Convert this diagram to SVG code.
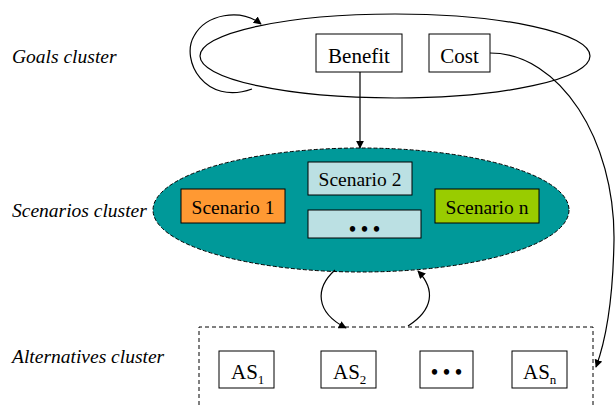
<svg xmlns="http://www.w3.org/2000/svg" width="615" height="406" viewBox="0 0 615 406" font-family="Liberation Serif, Tinos, Times New Roman, DejaVu Serif, serif">
  <style>
    text { font-family: "Liberation Serif", Tinos, "Times New Roman", "DejaVu Serif", serif; fill: #000; }
    .cluster-label { font-style: italic; font-size: 19.5px; }
    .box { stroke: #000; stroke-width: 1; }
    .plain { fill: #fff; }
    .label { font-size: 21px; text-anchor: middle; }
    .scen { font-size: 19.5px; text-anchor: middle; }
    .dots { font-size: 20px; text-anchor: middle; font-weight: bold; }
    .edge { fill: none; stroke: #000; stroke-width: 1.2; }
    .dashed { fill: none; stroke: #000; stroke-width: 1; stroke-dasharray: 4 3; }
  </style>
  <defs>
    <marker id="arrow" viewBox="0 0 10 10" refX="9" refY="5" markerWidth="8" markerHeight="8" markerUnits="userSpaceOnUse" orient="auto">
      <path d="M0,0 L10,5 L0,10 z" fill="#000"/>
    </marker>
  </defs>

  <rect width="615" height="406" fill="#fff"/>

  <!-- cluster labels -->
  <text class="cluster-label" x="12" y="63">Goals cluster</text>
  <text class="cluster-label" x="12" y="217">Scenarios cluster</text>
  <text class="cluster-label" x="12" y="363">Alternatives cluster</text>

  <!-- goals cluster -->
  <g id="goals">
    <ellipse cx="395" cy="56" rx="195" ry="42" fill="none" stroke="#000" stroke-width="1.2"/>
    <g id="benefit">
      <rect class="box plain" x="316" y="34" width="86" height="38"/>
      <text class="label" x="359" y="63">Benefit</text>
    </g>
    <g id="cost">
      <rect class="box plain" x="429" y="34" width="61" height="38"/>
      <text class="label" x="459.5" y="63">Cost</text>
    </g>
  </g>

  <!-- scenarios cluster -->
  <g id="scenarios">
    <ellipse cx="361" cy="210" rx="208" ry="62" fill="#009999" stroke="#000" stroke-width="1" stroke-dasharray="4 2"/>
    <g id="scenario-1">
      <rect class="box" x="181" y="189" width="104" height="34" fill="#FF9933"/>
      <text class="scen" x="233" y="214">Scenario 1</text>
    </g>
    <g id="scenario-2">
      <rect class="box" x="308" y="162" width="104" height="33" fill="#BBE0E3"/>
      <text class="scen" x="360" y="186">Scenario 2</text>
    </g>
    <g id="scenario-more">
      <rect class="box" x="308" y="210" width="113" height="28" fill="#BBE0E3"/>
      <text class="dots" x="364.5" y="236">• • •</text>
    </g>
    <g id="scenario-n">
      <rect class="box" x="435" y="189" width="104" height="34" fill="#99CC00"/>
      <text class="scen" x="487" y="214">Scenario n</text>
    </g>
  </g>

  <!-- alternatives cluster -->
  <g id="alternatives">
    <path class="dashed" d="M199,412 L199,327 L593,327 L593,412"/>
    <g id="as-1">
      <rect class="box plain" x="219" y="351" width="55" height="37"/>
      <text x="231" y="379" font-size="21">AS<tspan font-size="13" dy="5">1</tspan></text>
    </g>
    <g id="as-2">
      <rect class="box plain" x="321" y="351" width="55" height="37"/>
      <text x="333" y="379" font-size="21">AS<tspan font-size="13" dy="5">2</tspan></text>
    </g>
    <g id="as-more">
      <rect class="box plain" x="420" y="351" width="53" height="37"/>
      <text class="dots" x="446.5" y="379">• • •</text>
    </g>
    <g id="as-n">
      <rect class="box plain" x="512" y="351" width="55" height="37"/>
      <text x="523" y="379" font-size="21">AS<tspan font-size="13" dy="5">n</tspan></text>
    </g>
  </g>

  <!-- connectors -->
  <g id="connectors">
    <!-- goals feedback loop -->
    <path class="edge" d="M252,89 C205,106 180,60 194,36 C206,14 240,8 261,24" marker-end="url(#arrow)"/>
    <!-- benefit to scenarios -->
    <path class="edge" d="M360,72 L360,148" marker-end="url(#arrow)"/>
    <!-- cost to alternatives -->
    <path class="edge" d="M490,53 C560,53 615,140 614,240 C613,300 606,340 596,367" marker-end="url(#arrow)"/>
    <!-- scenarios to alternatives -->
    <path class="edge" d="M335,270 C315,288 315,312 346,328" marker-end="url(#arrow)"/>
    <!-- alternatives to scenarios -->
    <path class="edge" d="M408,326 C433,310 436,290 418,271" marker-end="url(#arrow)"/>
  </g>
</svg>
